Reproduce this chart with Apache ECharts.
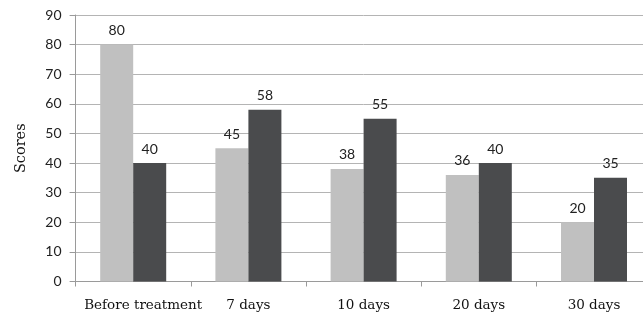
<!DOCTYPE html>
<html>
<head>
<meta charset="utf-8">
<script src="https://cdn.jsdelivr.net/npm/echarts@6/dist/echarts.min.js"></script>
<style>
html,body{margin:0;padding:0;background:#fff;overflow:hidden;width:643px;height:321px;}
#chart{width:660px;height:321px;}
</style>
</head>
<body>
<div id="chart"></div>
<script>
const categories = ['Before treatment', '7 days', '10 days', '20 days', '30 days'];
const seriesA = [80, 45, 38, 36, 20];
const seriesB = [40, 58, 55, 40, 35];
const yTicks = [0, 10, 20, 30, 40, 50, 60, 70, 80, 90];

const chart = echarts.init(document.getElementById('chart'), null, {renderer: 'canvas'});
const labelStyle = {
  show: true, position: 'top', distance: 7,
  fontFamily: 'Lato', fontSize: 14, color: '#222'
};
const catFont = {fontFamily: 'DejaVu Serif', fontSize: 13.5, color: '#111'};
chart.setOption({
  animation: false,
  grid: {left: 75.6, right: 8.4, top: 15, bottom: 39.5},
  xAxis: {
    type: 'category',
    data: categories,
    boundaryGap: true,
    axisLine: {lineStyle: {color: '#9a9a9a', width: 1}},
    axisTick: {show: true, length: 5, lineStyle: {color: '#9a9a9a'}},
    axisLabel: Object.assign({
      interval: 0, margin: 17,
      formatter: function (v, i) { return i === 0 ? '{shift|' + v + '}' : v; },
      rich: {shift: Object.assign({padding: [0, 0, 0, 20]}, catFont)}
    }, catFont)
  },
  yAxis: {
    type: 'value',
    min: yTicks[0], max: yTicks[yTicks.length - 1], interval: 10,
    name: 'Scores',
    nameLocation: 'middle',
    nameGap: 47,
    nameRotate: 90,
    nameTextStyle: {fontFamily: 'DejaVu Serif', fontSize: 14.5, color: '#111'},
    axisLine: {show: true, lineStyle: {color: '#9a9a9a', width: 1}},
    axisTick: {show: true, length: 6, lineStyle: {color: '#9a9a9a'}},
    axisLabel: {fontFamily: 'Lato', fontSize: 14, color: '#222', margin: 14},
    splitLine: {show: true, lineStyle: {color: '#b4b4b4', width: 1}}
  },
  series: [
    {type: 'bar', data: seriesA, barWidth: 33, barGap: '0%',
     itemStyle: {color: '#c0c0c0'}, label: labelStyle},
    {type: 'bar', data: seriesB, barWidth: 33, barGap: '0%',
     itemStyle: {color: '#4a4b4d'}, label: labelStyle}
  ]
});
</script>
</body>
</html>
